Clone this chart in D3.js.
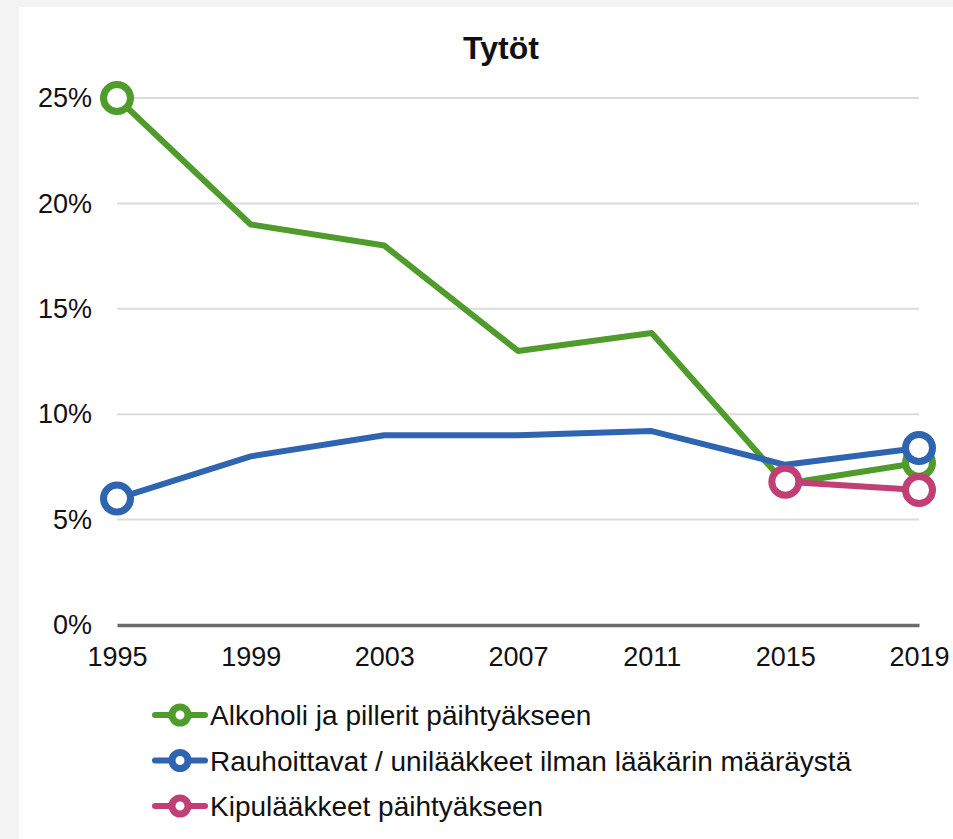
<!DOCTYPE html>
<html><head><meta charset="utf-8">
<script src="https://cdn.jsdelivr.net/npm/d3@7"></script>
<style>
html,body{margin:0;padding:0;background:#f3f3f3;}
svg{display:block;font-family:"Liberation Sans",Arial,sans-serif;}
</style></head>
<body>
<svg id="c" width="953" height="839"></svg>
<script>
const years = ["1995","1999","2003","2007","2011","2015","2019"];
const alkoholi = [25, 19, 18, 13, 13.85, 6.7, 7.7];
const rauhoittavat = [6.0, 8.0, 9.0, 9.0, 9.2, 7.6, 8.4];
const kipulaakkeet = [null, null, null, null, null, 6.8, 6.4];
const yTicks = [0, 5, 10, 15, 20, 25];
const seriesNames = ["Alkoholi ja pillerit päihtyäkseen","Rauhoittavat / unilääkkeet ilman lääkärin määräystä","Kipulääkkeet päihtyäkseen"];
const seriesColors = ["#4f9b2c","#2f64b1","#c13f74"];
const title = "Tytöt";

const series = [alkoholi, rauhoittavat, kipulaakkeet].map((v,i)=>({name:seriesNames[i],color:seriesColors[i],values:v}));

const svg = d3.select("#c");
svg.append("rect").attr("x",19).attr("y",7).attr("width",953-19).attr("height",839-7).attr("fill","#fff");

const x = d3.scalePoint().domain(years).range([117,919]);
const y = d3.scaleLinear().domain([0,25]).range([625,98]);

// gridlines
svg.append("g").selectAll("line").data(yTicks.filter(d=>d>0)).join("line")
  .attr("x1",117).attr("x2",919).attr("y1",d=>y(d)).attr("y2",d=>y(d))
  .attr("stroke","#dcdcdc").attr("stroke-width",2);

// y axis
const ya = svg.append("g").attr("transform","translate(117,0)")
  .call(d3.axisLeft(y).tickValues(yTicks).tickFormat(d=>d+"%").tickSize(0).tickPadding(25));
ya.select(".domain").remove();
ya.selectAll("text").attr("font-size",27).attr("fill","#111").attr("font-family","Liberation Sans, Arial, sans-serif");

// x axis
const xa = svg.append("g").attr("transform","translate(0,625)")
  .call(d3.axisBottom(x).tickSize(0).tickPadding(22));
xa.select(".domain").attr("stroke","#6b6b6b").attr("stroke-width",3.5);
xa.selectAll("text").attr("font-size",27).attr("fill","#111").attr("font-family","Liberation Sans, Arial, sans-serif");

// title
svg.append("text").attr("x",501).attr("y",59).attr("text-anchor","middle")
  .attr("font-size",32).attr("font-weight","bold").attr("fill","#111").text(title);

const line = d3.line().defined(d=>d.v!=null).x(d=>x(d.yr)).y(d=>y(d.v));
const g = svg.append("g");
series.forEach(s=>{
  const pts = s.values.map((v,i)=>({yr:years[i],v}));
  g.append("path").datum(pts).attr("d",line).attr("fill","none")
    .attr("stroke",s.color).attr("stroke-width",6).attr("stroke-linejoin","round");
});
// markers at endpoints
series.forEach(s=>{
  const pts = s.values.map((v,i)=>({yr:years[i],v})).filter(d=>d.v!=null);
  const ends = [pts[0], pts[pts.length-1]];
  g.selectAll(null).data(ends).join("circle")
    .attr("cx",d=>x(d.yr)).attr("cy",d=>y(d.v)).attr("r",13.5)
    .attr("fill","#fff").attr("stroke",s.color).attr("stroke-width",7);
});

// legend
const lg = svg.append("g");
series.forEach((s,i)=>{
  const yy = 715 + i*45.5;
  lg.append("line").attr("x1",155).attr("x2",205).attr("y1",yy).attr("y2",yy)
    .attr("stroke",s.color).attr("stroke-width",6).attr("stroke-linecap","round");
  lg.append("circle").attr("cx",180).attr("cy",yy).attr("r",8).attr("fill","#fff")
    .attr("stroke",s.color).attr("stroke-width",7);
  lg.append("text").attr("x",210).attr("y",yy).attr("dy","0.36em").attr("font-size",28)
    .attr("fill","#111").text(s.name);
});
</script>
</body></html>
